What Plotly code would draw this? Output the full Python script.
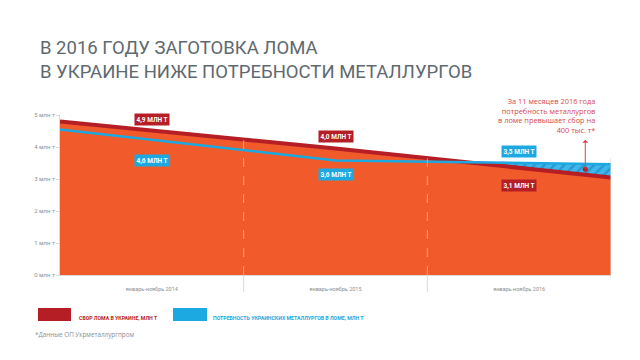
import numpy as np
import plotly.graph_objects as go

# ---- data ----
periods = ["январь-ноябрь 2014", "январь-ноябрь 2015", "январь-ноябрь 2016"]
x_points = [0, 1.5, 3]                 # left edge, middle, right edge of the period band
scrap_collection = [4.8, 3.95, 3.05]   # сбор лома, млн т (as drawn)
scrap_demand = [4.55, 3.58, 3.46]      # потребность металлургов, млн т (as drawn)
collection_labels = ["4,9 МЛН Т", "4,0 МЛН Т", "3,1 МЛН Т"]
demand_labels = ["4,6 МЛН Т", "3,6 МЛН Т", "3,5 МЛН Т"]
y_ticks = [0, 1, 2, 3, 4, 5]
y_ticktext = [f"{v} млн т" for v in y_ticks]

# ---- styles ----
ORANGE = "#F15A2A"
RED = "#B51E24"
BLUE = "#1CA9E1"
HATCH_BG = "#3DB8EC"
HATCH_FG = "#1A6DA6"
GRAY = "#8A8F94"
FONT = "Roboto, Liberation Sans, sans-serif"

OFF = 8                       # page body margin
W, H = 640 - OFF, 360 - OFF
L = 60 - OFF                  # plot left at page x=60
T = 115 - OFF                 # y=5 at page y=115
B = 360 - 275                 # y=0 at page y=275
R = 640 - 611
PW, PH = W - L - R, H - T - B


def px_x(px):                 # page x -> paper x
    return (px - OFF - L) / PW


def px_y(py):                 # page y -> paper y
    return (H - B - (py - OFF)) / PH


xs = np.array(x_points, dtype=float)
red = np.array(scrap_collection)
blue = np.array(scrap_demand)
cat_centers = np.arange(len(periods)) + 0.5

fig = go.Figure()

# orange area under collection line
fig.add_trace(go.Scatter(x=xs, y=red, mode="lines", fill="tozeroy",
                         fillcolor=ORANGE, line=dict(width=0, color=ORANGE),
                         hoverinfo="skip", showlegend=False))

# hatched gap where demand exceeds collection
d = blue - red
hx = []
for i in range(len(xs) - 1):
    if d[i] <= 0 < d[i + 1]:
        hx.append(xs[i] + (xs[i + 1] - xs[i]) * (-d[i]) / (d[i + 1] - d[i]))
    if d[i + 1] > 0:
        hx.append(xs[i + 1])
hx = np.array(hx)
fig.add_trace(go.Scatter(x=hx, y=np.interp(hx, xs, red), mode="lines",
                         line=dict(width=0), hoverinfo="skip", showlegend=False))
fig.add_trace(go.Scatter(x=hx, y=np.interp(hx, xs, blue), mode="lines",
                         line=dict(width=0), fill="tonexty",
                         fillpattern=dict(shape="/", bgcolor=HATCH_BG, fgcolor=HATCH_FG,
                                          size=7, solidity=0.3),
                         hoverinfo="skip", showlegend=False))

# lines
fig.add_trace(go.Scatter(x=xs, y=red, mode="lines", line=dict(color=RED, width=4),
                         hoverinfo="skip", showlegend=False))
fig.add_trace(go.Scatter(x=xs, y=blue, mode="lines", line=dict(color=BLUE, width=2.5),
                         hoverinfo="skip", showlegend=False))

# arrow dot
xd = 2.86
yd = (np.interp(xd, xs, red) + np.interp(xd, xs, blue)) / 2
fig.add_trace(go.Scatter(x=[xd], y=[yd], mode="markers",
                         marker=dict(color=RED, size=5), hoverinfo="skip", showlegend=False))

annotations = []
# value labels
red_shift = [11, 12, -18]
blue_shift = [-21, -14, 12]
for i, c in enumerate(cat_centers):
    annotations.append(dict(x=c, y=float(np.interp(c, xs, red)), yshift=red_shift[i],
                            text=f"<b>{collection_labels[i]}</b>", showarrow=False,
                            bgcolor=RED, borderpad=1.5,
                            font=dict(family=FONT, size=6.5, color="white")))
    annotations.append(dict(x=c, y=float(np.interp(c, xs, blue)), yshift=blue_shift[i],
                            text=f"<b>{demand_labels[i]}</b>", showarrow=False,
                            bgcolor=BLUE, borderpad=1.5,
                            font=dict(family=FONT, size=6.5, color="white")))

# arrow
annotations.append(dict(x=xd, y=yd, ax=0, ay=-31, text="", showarrow=True,
                        arrowside="start", arrowhead=2, arrowsize=1, arrowwidth=1,
                        arrowcolor="#D7474A", standoff=0, startstandoff=0))
# callout text
annotations.append(dict(xref="paper", yref="paper", x=px_x(597), y=px_y(94),
                        xanchor="right", yanchor="top", align="right", showarrow=False,
                        text="За 11 месяцев 2016 года<br>потребность металлургов<br>"
                             "в ломе превышает сбор на<br>400 тыс. т*",
                        font=dict(family="Open Sans, sans-serif", size=7.4, color="#D9474A")))

# legend
annotations.append(dict(xref="paper", yref="paper", x=px_x(77), y=px_y(318),
                        xanchor="left", yanchor="middle", showarrow=False,
                        text="<b>СБОР ЛОМА В УКРАИНЕ, МЛН Т</b>",
                        font=dict(family=FONT, size=5.2, color=RED)))
annotations.append(dict(xref="paper", yref="paper", x=px_x(211), y=px_y(318),
                        xanchor="left", yanchor="middle", showarrow=False,
                        text="<b>ПОТРЕБНОСТЬ УКРАИНСКИХ МЕТАЛЛУРГОВ В ЛОМЕ, МЛН Т</b>",
                        font=dict(family=FONT, size=5.2, color=BLUE)))
annotations.append(dict(xref="paper", yref="paper", x=px_x(33), y=px_y(334),
                        xanchor="left", yanchor="middle", showarrow=False,
                        text="*Данные ОП Укрметаллургпром",
                        font=dict(family="Open Sans, sans-serif", size=6.3, color=GRAY)))

shapes = [
    dict(type="rect", xref="paper", yref="paper", x0=px_x(38), x1=px_x(71),
         y0=px_y(321), y1=px_y(308), fillcolor=RED, line=dict(width=0)),
    dict(type="rect", xref="paper", yref="paper", x0=px_x(173), x1=px_x(207),
         y0=px_y(321), y1=px_y(308), fillcolor=BLUE, line=dict(width=0)),
]
for xb in range(1, len(periods)):
    shapes.append(dict(type="line", xref="x", yref="y", x0=xb, x1=xb, y0=0, y1=5,
                       line=dict(color="rgba(255,255,255,0.45)", width=1, dash="dash"),
                       layer="above"))
    shapes.append(dict(type="line", xref="x", yref="paper", x0=xb, x1=xb, y0=0,
                       y1=px_y(292), line=dict(color="#DADADA", width=1)))
shapes.append(dict(type="line", xref="x", yref="paper", x0=len(periods), x1=len(periods),
                   y0=px_y(278), y1=px_y(158), line=dict(color="#DADADA", width=1)))

fig.update_layout(
    width=W, height=H,
    margin=dict(l=L, r=R, t=T, b=B, autoexpand=False),
    paper_bgcolor="white", plot_bgcolor="white",
    title=dict(text="В 2016 ГОДУ ЗАГОТОВКА ЛОМА<br>В УКРАИНЕ НИЖЕ ПОТРЕБНОСТИ МЕТАЛЛУРГОВ",
               x=(40 - OFF) / W, xanchor="left", xref="container",
               y=1 - 46 / H, yanchor="top", yref="container",
               font=dict(family=FONT, size=18.5, weight="normal", color="#5E6970")),
    xaxis=dict(range=[0, 3], tickvals=cat_centers, ticktext=periods,
               showgrid=False, zeroline=False, showline=True, linecolor="#DADADA",
               ticks="", ticklabelstandoff=8,
               tickfont=dict(family=FONT, size=5.5, color=GRAY)),
    yaxis=dict(range=[0, 5], tickvals=y_ticks, ticktext=y_ticktext,
               showgrid=False, zeroline=False, showline=True, linecolor="#DADADA",
               ticks="outside", ticklen=3, tickcolor="#DADADA",
               tickfont=dict(family=FONT, size=6, color=GRAY)),
    annotations=annotations,
    shapes=shapes,
    showlegend=False,
)

fig.write_html("out.html")
